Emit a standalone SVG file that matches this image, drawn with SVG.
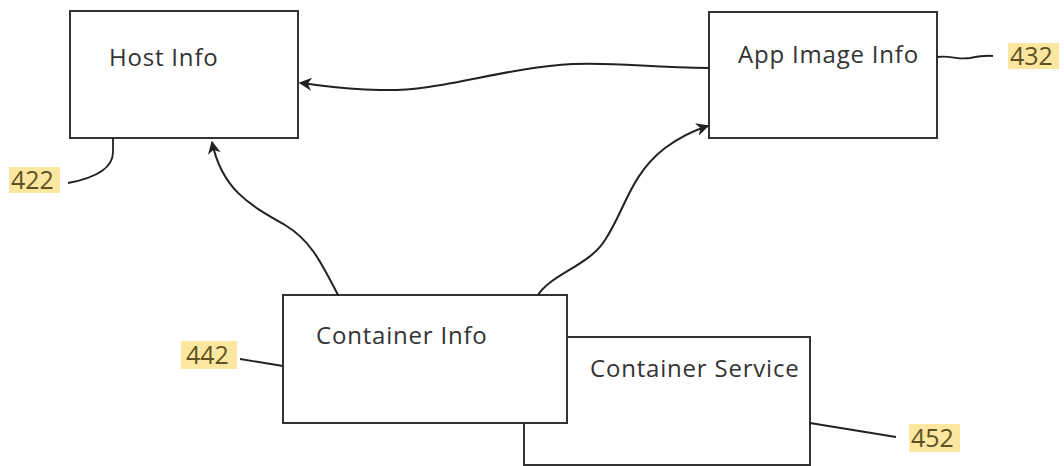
<svg xmlns="http://www.w3.org/2000/svg" width="1064" height="466" viewBox="0 0 1064 466">
<defs>
<style>
.box{fill:#fff;stroke:#333;stroke-width:2}
.lbl{font-family:"Open Sans","Liberation Sans",sans-serif;font-size:24px;letter-spacing:0.8px;fill:#333}
.conn{fill:none;stroke:#222;stroke-width:2}
.lead{fill:none;stroke:#222;stroke-width:1.8}
.hl{fill:#fce7a0}
.num{font-family:"Open Sans","Liberation Sans",sans-serif;font-size:25px;fill:#5e5224}
</style>
<marker id="ah" viewBox="0 0 10 10" refX="9" refY="5" markerWidth="13" markerHeight="13" orient="auto" markerUnits="userSpaceOnUse">
<path d="M0,0 L10,5 L0,10 L3,5 Z" fill="#222"/>
</marker>
</defs>
<rect width="1064" height="466" fill="#fff"/>
<g id="host-info">
<rect class="box" x="70" y="11" width="228" height="127"/>
<text class="lbl" x="109" y="66">Host Info</text>
</g>
<g id="app-image-info">
<rect class="box" x="709" y="12" width="228" height="126"/>
<text class="lbl" x="738" y="63">App Image Info</text>
</g>
<g id="container-service">
<rect class="box" x="524" y="337" width="286" height="128"/>
<text class="lbl" x="590" y="377">Container Service</text>
</g>
<g id="container-info">
<rect class="box" x="283" y="295" width="284" height="128"/>
<text class="lbl" x="316" y="344">Container Info</text>
</g>
<g id="connectors">
<path class="conn" marker-end="url(#ah)" d="M709,68 C650,68 620,62 573,64 C500,68 440,92 380,90 C340,89 320,85 300,83"/>
<path class="conn" marker-end="url(#ah)" d="M338,295 C320,260 310,240 285,225 C250,205 222,190 212,142"/>
<path class="conn" marker-end="url(#ah)" d="M538,295 C550,275 590,265 605,240 C625,210 630,175 665,148 C680,137 695,130 708,126"/>
</g>
<g id="ref-422">
<path class="lead" d="M113,138 L113,152 C113,168 95,178 68,183"/>
<rect class="hl" x="9" y="167" width="51" height="26"/>
<text class="num" x="11" y="189">422</text>
</g>
<g id="ref-432">
<path class="lead" d="M937,57 C950,55 958,60 970,58 C980,56 985,55 993,56"/>
<rect class="hl" x="1008" y="43" width="51" height="26"/>
<text class="num" x="1010" y="65">432</text>
</g>
<g id="ref-442">
<path class="lead" d="M240,359 L283,366"/>
<rect class="hl" x="181" y="341" width="56" height="28"/>
<text class="num" x="186" y="364">442</text>
</g>
<g id="ref-452">
<path class="lead" d="M810,423 L896,437"/>
<rect class="hl" x="909" y="424" width="51" height="28"/>
<text class="num" x="911" y="447">452</text>
</g>
</svg>
